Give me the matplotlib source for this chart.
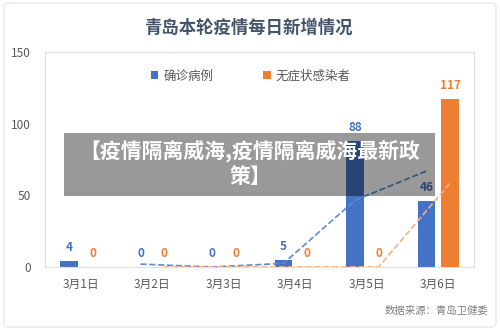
import numpy as np
import matplotlib.pyplot as plt
from matplotlib.patches import FancyBboxPatch, Rectangle

plt.rcParams['font.family'] = ['Noto Sans CJK SC', 'DejaVu Sans']

# données
dates = ['3月1日', '3月2日', '3月3日', '3月4日', '3月5日', '3月6日']
confirmes = [4, 0, 0, 5, 88, 46]
asympto = [0, 0, 0, 0, 0, 117]
noms = ['确诊病例', '无症状感染者']

bleu = '#4472C4'
orange = '#ED7D31'

fig = plt.figure(figsize=(5, 3.3), dpi=100)
ax = fig.add_axes([0.09, 0.191, 0.858, 0.651])

x = np.arange(len(dates))
dx = 0.165
w = 0.24
ax.bar(x - dx, confirmes, w, color=bleu, label=noms[0], zorder=2)
ax.bar(x + dx, asympto, w, color=orange, label=noms[1], zorder=2)

# étiquettes de valeurs
for i in range(len(dates)):
    ax.annotate(str(confirmes[i]), (x[i] - dx, confirmes[i]), xytext=(0, 5),
                textcoords='offset points', ha='center', va='bottom',
                color=bleu, fontsize=8.5, fontweight='bold')
    ax.annotate(str(asympto[i]), (x[i] + dx, asympto[i]), xytext=(0, 5),
                textcoords='offset points', ha='center', va='bottom',
                color=orange, fontsize=8.5, fontweight='bold')

# courbes de tendance (moyenne mobile sur 2 jours)
mm_b = np.convolve(confirmes, [0.5, 0.5], mode='valid')
mm_o = np.convolve(asympto, [0.5, 0.5], mode='valid')
ax.plot(x[1:] - dx, mm_b, ls='--', color='#5B8BD0', lw=1.2, zorder=3)
ax.plot(x[1:] + dx, mm_o, ls='--', color='#F4B183', lw=1.2, zorder=3)

ax.set_xlim(-0.5, 5.5)
ax.set_ylim(0, 150)
ax.set_yticks([0, 50, 100, 150])
ax.set_xticks(x)
ax.set_xticklabels(dates)
ax.tick_params(length=0, labelsize=8.5, colors='#595959')
ax.tick_params(axis='y', pad=10)
ax.tick_params(axis='x', pad=8)
for s in ax.spines.values():
    s.set_color('#e0e0e0')
    s.set_linewidth(0.8)

leg = ax.legend(loc='upper center', bbox_to_anchor=(0.48, 0.97), ncol=2,
                frameon=False, fontsize=9, handlelength=0.6, handleheight=0.6,
                columnspacing=4.0, handletextpad=0.4)
for t in leg.get_texts():
    t.set_color('#595959')

fig.text(0.496, 0.915, '青岛本轮疫情每日新增情况', ha='center', va='center',
         fontsize=12.5, fontweight='bold', color='#44546A')
fig.text(0.976, 0.057, '数据来源：青岛卫健委', ha='right', va='center',
         fontsize=7.5, color='#808080')

# cadre extérieur
fig.patches.append(FancyBboxPatch((0.008, 0.009), 0.984, 0.982,
                                  boxstyle='round,pad=0,rounding_size=0.01',
                                  transform=fig.transFigure, fill=False,
                                  edgecolor='#e3e3e3', lw=0.8))

# bandeau gris avec texte
fig.patches.append(Rectangle((0.128, (330 - 196) / 330), 0.742, 63 / 330,
                             transform=fig.transFigure, facecolor='black',
                             lw=0, alpha=0.4, zorder=10))
fig.text(0.5, (330 - 151) / 330, '【疫情隔离威海,疫情隔离威海最新政', ha='center',
         va='center', fontsize=15, fontweight='bold', color='white', zorder=11)
fig.text(0.5, (330 - 176) / 330, '策】', ha='center', va='center',
         fontsize=15, fontweight='bold', color='white', zorder=11)

plt.savefig('out.png', dpi=100)
